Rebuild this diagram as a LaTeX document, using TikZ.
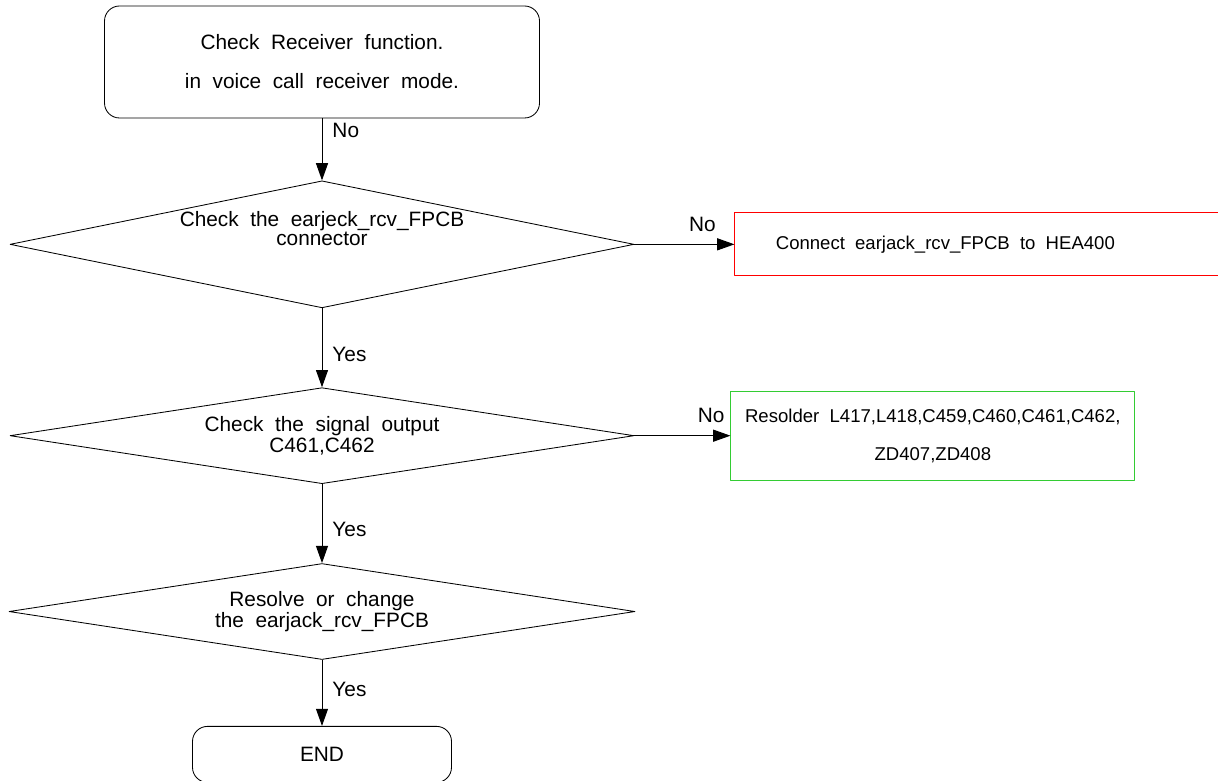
\documentclass[tikz,border=0pt]{standalone}
\usepackage{fontspec}
\setmainfont{Liberation Sans}[WordSpace=2]
\usetikzlibrary{arrows.meta,positioning,shapes.geometric}

\definecolor{fixred}{RGB}{255,0,0}
\definecolor{fixgreen}{RGB}{51,204,51}

\begin{document}
\begin{tikzpicture}[
    font=\fontsize{14.8pt}{17pt}\selectfont,
    >={Triangle[length=4.3mm, width=3mm]},
    line join=round,
    leading/.style={font=\fontsize{14.8pt}{#1}\selectfont},
    small leading/.style={font=\fontsize{13.2pt}{#1}\selectfont},
    term/.style={draw, rounded corners=3.75mm, align=center, line width=0.6pt},
    decision/.style={diamond, draw, shape aspect=6.5, inner sep=1pt, align=center, line width=0.6pt},
    fixbox/.style={draw, rectangle, line width=0.6pt},
    flow/.style={->, line width=0.7pt},
    tag/.style={inner sep=0pt}
]

% page frame
\useasboundingbox (0,0) rectangle (304.5mm,-195.25mm);

% ------------------------
% Main column
% ------------------------
\node[term, leading=9.75mm, minimum width=108.75mm, minimum height=28mm] (start) at (80.5mm,-15.5mm)
{Check Receiver function.\\in voice call receiver mode.};

\node[decision, minimum width=156mm, minimum height=31.75mm, below=15.5mm of start] (conn) {};
\node[align=center, leading=3.6mm, inner sep=0pt] (conntext) at ([yshift=3.9mm]conn.center)
{Check the earjeck\_rcv\_FPCB\\connector};

\node[decision, leading=5.4mm, minimum width=156mm, minimum height=24mm, below=19.75mm of conn] (signal)
{Check the signal output\\C461,C462};

\node[decision, leading=5.25mm, minimum width=156.5mm, minimum height=24mm, below=19.75mm of signal] (resolve)
{Resolve or change\\the earjack\_rcv\_FPCB};

\node[term, minimum width=64.75mm, minimum height=14mm, below=16.5mm of resolve] (end) {END};

\draw[flow] (start.south) -- node[tag, right=2.5mm, pos=0.19] {No} (conn.north);
\draw[flow] (conn.south) -- node[tag, right=2.5mm, pos=0.58] {Yes} (signal.north);
\draw[flow] (signal.south) -- node[tag, right=2.5mm, pos=0.58] {Yes} (resolve.north);
\draw[flow] (resolve.south) -- node[tag, right=2.5mm, pos=0.45] {Yes} (end.north);

% ------------------------
% Repair actions
% ------------------------
\node[fixbox, draw=fixred, right=25mm of conn, minimum height=15.75mm, text width=104.5mm,
      inner xsep=10.25mm, align=left, small leading=15pt] (plug)
{\spaceskip=0.55em\relax Connect earjack\_rcv\_FPCB to HEA400};

\node[fixbox, draw=fixgreen, right=24mm of signal, minimum width=101mm, minimum height=22.25mm,
      align=center, small leading=9.5mm] (resolder)
{Resolder L417,L418,C459,C460,C461,C462,\\ZD407,ZD408};

\draw[flow] (conn.east) -- node[tag, above=3mm, pos=0.68] {No} (plug.west);
\draw[flow] (signal.east) -- node[tag, above=3mm, pos=0.8] {No} (resolder.west);

\end{tikzpicture}
\end{document}
